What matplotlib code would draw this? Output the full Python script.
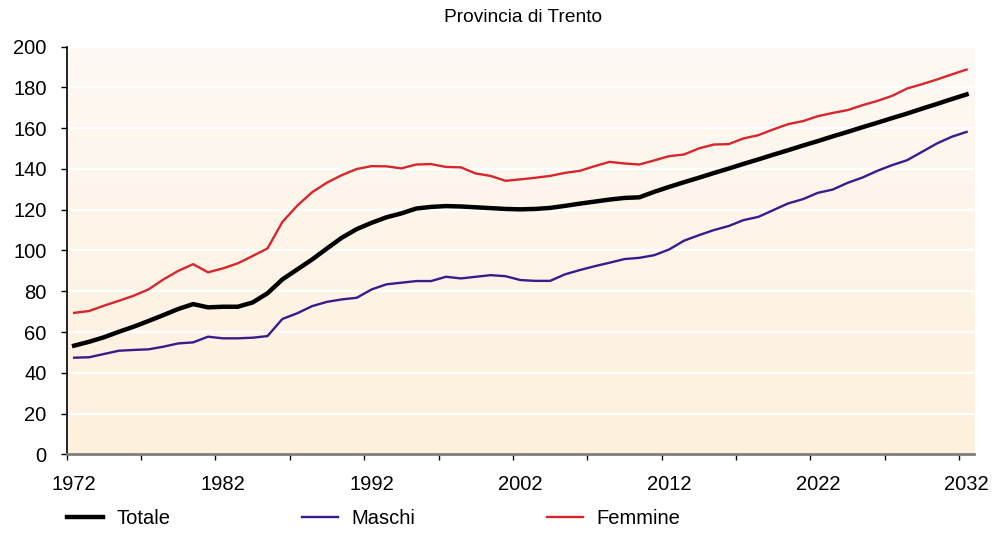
#!/usr/bin/env python3
"""Provincia di Trento: Totale / Maschi / Femmine, 1972-2032."""

import numpy as np
import matplotlib

matplotlib.use("Agg")
import matplotlib.pyplot as plt
from matplotlib.colors import LinearSegmentedColormap
from matplotlib.ticker import FixedLocator, NullFormatter

years = list(range(1972, 2033))

totale = [
    53.3, 55.2, 57.4, 60.1, 62.6, 65.4, 68.3, 71.3, 73.7, 72.1,
    72.4, 72.4, 74.5, 79.0, 85.8, 90.7, 95.6, 101.0, 106.3, 110.5,
    113.6, 116.3, 118.2, 120.6, 121.4, 121.8, 121.6, 121.2, 120.8, 120.4,
    120.2, 120.4, 120.9, 121.9, 123.0, 124.0, 125.0, 125.8, 126.1, 128.8,
    131.2, 133.5, 135.7, 138.0, 140.2, 142.5, 144.7, 147.0, 149.2, 151.5,
    153.7, 156.0, 158.2, 160.5, 162.7, 165.0, 167.2, 169.6, 171.9, 174.3,
    176.6,
]

maschi = [
    47.4, 47.6, 49.2, 50.8, 51.2, 51.5, 52.8, 54.4, 54.9, 57.7,
    56.9, 56.9, 57.2, 58.0, 66.4, 69.2, 72.7, 74.8, 76.0, 76.8,
    80.9, 83.4, 84.2, 85.0, 85.0, 87.1, 86.3, 87.1, 87.9, 87.4,
    85.5, 85.1, 85.1, 88.3, 90.4, 92.3, 94.0, 95.8, 96.4, 97.7,
    100.5, 104.8, 107.5, 110.0, 112.0, 114.9, 116.5, 119.8, 123.1, 125.2,
    128.3, 129.9, 133.2, 135.8, 139.1, 141.9, 144.3, 148.4, 152.5, 155.8,
    158.2,
]

femmine = [
    69.4, 70.3, 72.9, 75.3, 77.8, 80.9, 85.8, 90.0, 93.3, 89.3,
    91.2, 93.7, 97.3, 101.0, 114.0, 122.0, 128.6, 133.3, 137.0, 140.0,
    141.4, 141.3, 140.3, 142.2, 142.4, 141.0, 140.8, 137.8, 136.6, 134.2,
    134.9, 135.7, 136.6, 138.1, 139.1, 141.4, 143.5, 142.7, 142.2, 144.2,
    146.3, 147.1, 150.1, 152.0, 152.2, 155.0, 156.6, 159.4, 162.0, 163.5,
    165.9, 167.5, 168.9, 171.3, 173.4, 175.9, 179.5, 181.6, 183.9, 186.4,
    188.8,
]

title = "Provincia di Trento"
label_years = list(range(1972, 2033, 10))


def main() -> None:
    plt.rcParams["font.family"] = ["Liberation Sans", "DejaVu Sans"]

    fig = plt.figure(figsize=(9.94, 5.34), dpi=100)
    ax = fig.add_axes([0.0671, 0.1493, 0.9128, 0.7632])

    x0, x1 = years[0] - 0.5, years[-1] + 0.5
    ax.set_xlim(x0, x1)
    ax.set_ylim(0, 200)

    # soft cream gradient behind the plot area
    cmap = LinearSegmentedColormap.from_list("bg", ["#fdf0dc", "#fef9f4"])
    grad = np.linspace(0, 1, 256).reshape(-1, 1)
    ax.imshow(grad, cmap=cmap, origin="lower", aspect="auto",
              extent=[x0, x1, 0, 200], zorder=0)

    ax.set_yticks(range(0, 201, 20))
    for v in range(20, 201, 20):
        ax.axhline(v, color="white", lw=1.6, zorder=1)

    ax.plot(years, femmine, color="#d8262c", lw=1.7, label="Femmine", zorder=3)
    ax.plot(years, maschi, color="#3b1a8c", lw=1.7, label="Maschi", zorder=3)
    ax.plot(years, totale, color="black", lw=3.2, label="Totale", zorder=4)

    # tick marks at category boundaries every 5 years, labels every 10 years
    ax.xaxis.set_major_locator(FixedLocator(np.arange(x0, x1 + 0.01, 5)))
    ax.xaxis.set_major_formatter(NullFormatter())
    ax.xaxis.set_minor_locator(FixedLocator(label_years))
    ax.set_xticklabels([str(y) for y in label_years], minor=True)
    ax.tick_params(axis="x", which="major", length=4, width=1, color="black",
                   direction="out")
    ax.tick_params(axis="x", which="minor", length=0, pad=15, labelsize=14.5)
    ax.tick_params(axis="y", length=4, width=1, pad=10.5, labelsize=14.5)

    for side in ("top", "right"):
        ax.spines[side].set_visible(False)
    ax.spines["left"].set_linewidth(1.2)
    ax.spines["bottom"].set_color("#7f7f7f")
    ax.spines["bottom"].set_linewidth(2)

    fig.text(0.526, 0.967, title, ha="center", va="center", fontsize=13.8)

    handles, labels = ax.get_legend_handles_labels()
    order = [2, 1, 0]
    fig.legend([handles[i] for i in order], [labels[i] for i in order],
               loc="center left", bbox_to_anchor=(0.0674, 1 - 519 / 534),
               ncol=3, frameon=False, fontsize=14.5, borderpad=0,
               borderaxespad=0, handlelength=1.79, handletextpad=0.65,
               columnspacing=6.55)

    fig.savefig("out.png", dpi=100)
    plt.close(fig)


if __name__ == "__main__":
    main()
